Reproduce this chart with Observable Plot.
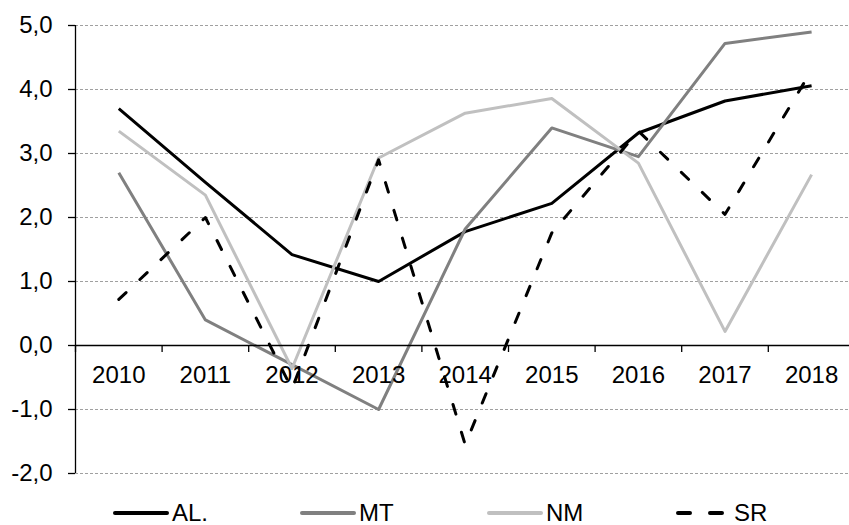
<!DOCTYPE html>
<html>
<head>
<meta charset="utf-8">
<script src="https://cdn.jsdelivr.net/npm/d3@7"></script>
<script src="https://cdn.jsdelivr.net/npm/@observablehq/plot@0.6"></script>
<style>
  html, body { margin: 0; padding: 0; background: #fff; }
  #wrap { position: relative; width: 849px; height: 525px; overflow: hidden; font-family: "Liberation Sans", Arial, sans-serif; }
  #legend { position: absolute; left: 0; top: 500px; width: 849px; height: 25px; }
  .item { position: absolute; top: 0; height: 25px; display: flex; align-items: center; font-size: 24px; color: #000; }
  .item svg { margin-right: 3px; }
</style>
</head>
<body>
<div id="wrap"><div id="chart"></div><div id="legend"></div></div>
<script>
// ---- data ----
const years = [2010, 2011, 2012, 2013, 2014, 2015, 2016, 2017, 2018];
const seriesNames = ["AL.", "MT", "NM", "SR"];
const AL = [3.70, 2.55, 1.42, 1.00, 1.78, 2.22, 3.32, 3.82, 4.06];
const MT = [2.70, 0.40, -0.30, -1.00, 1.82, 3.40, 2.95, 4.72, 4.90];
const NM = [3.35, 2.35, -0.36, 2.93, 3.63, 3.86, 2.85, 0.22, 2.67];
const SR = [0.72, 2.00, -0.68, 2.90, -1.55, 1.76, 3.35, 2.05, 4.30];
const yTicks = [-2, -1, 0, 1, 2, 3, 4, 5];

// ---- styles ----
const colors = {"AL.": "#000000", "MT": "#808080", "NM": "#c0c0c0", "SR": "#000000"};
const dashes = {"AL.": null, "MT": null, "NM": null, "SR": "10,19"};

const rows = [];
[AL, MT, NM, SR].forEach((vals, k) => {
  vals.forEach((v, i) => rows.push({series: seriesNames[k], year: years[i], value: v}));
});

const W = 849, H = 495, mTop = 25, mBottom = 22, mLeft = 75;
const yMin = d3.min(yTicks), yMax = d3.max(yTicks);
const bandW = 86.6;
const xDomain = [years[0] - 0.5, years[years.length - 1] + 0.5];
const xRange = [mLeft, mLeft + bandW * years.length];
const innerH = H - mTop - mBottom;
const zeroOffset = -((0 - yMin) / (yMax - yMin)) * innerH; // shift bottom axis up to y=0
const boundaries = d3.range(years[0] - 0.5, years[years.length - 1] + 0.5, 1);
const fmt = d => d.toFixed(1).replace(".", ",");

const marks = [
  Plot.ruleY(yTicks.filter(d => d !== 0), {stroke: "#a0a0a0", strokeWidth: 1, strokeDasharray: "3,2"}),
];
seriesNames.forEach(name => {
  marks.push(Plot.line(rows.filter(r => r.series === name), {
    x: "year", y: "value",
    stroke: colors[name], strokeWidth: 3,
    strokeDasharray: dashes[name] || undefined,
    strokeLinecap: dashes[name] ? "round" : "butt",
    strokeLinejoin: "round"
  }));
});
marks.push(
  Plot.ruleY([0], {stroke: "#000", strokeWidth: 1.3}),
  Plot.ruleX([xDomain[0]], {stroke: "#000", strokeWidth: 1.3}),
  Plot.axisY(yTicks, {tickSize: 7, tickPadding: 16, tickFormat: fmt, label: null, stroke: "#000", strokeWidth: 1.3, fill: "#000"}),
  Plot.axisX(boundaries, {anchor: "bottom", tickSize: 7, tickFormat: () => "", label: null, dy: zeroOffset, stroke: "#000", strokeWidth: 1.3}),
  Plot.text(years, {x: d => d, y: () => 0, text: d => String(d), dy: 30, fill: "#000", lineAnchor: "middle"})
);

const chart = Plot.plot({
  width: W, height: H,
  marginTop: mTop, marginBottom: mBottom, marginLeft: mLeft, marginRight: 0,
  x: {type: "linear", domain: xDomain, range: xRange, label: null},
  y: {type: "linear", domain: [yMin, yMax], label: null},
  style: {fontFamily: "'Liberation Sans', Arial, sans-serif", fontSize: "24px", background: "#fff", color: "#000", overflow: "hidden"},
  marks
});
document.getElementById("chart").appendChild(chart);

// ---- legend ----
const legendX = [113, 300, 487, 675];
const leg = document.getElementById("legend");
seriesNames.forEach((name, k) => {
  const div = document.createElement("div");
  div.className = "item";
  div.style.left = legendX[k] + "px";
  const dash = name === "SR" ? ' stroke-dasharray="12,20" stroke-linecap="round"' : ' stroke-linecap="round"';
  div.innerHTML = `<svg width="56" height="10"><line x1="${name === "SR" ? 3 : 2}" y1="5" x2="${name === "SR" ? 50 : 54}" y2="5" stroke="${colors[name]}" stroke-width="4"${dash}/></svg><span>${name}</span>`;
  leg.appendChild(div);
});
</script>
</body>
</html>
